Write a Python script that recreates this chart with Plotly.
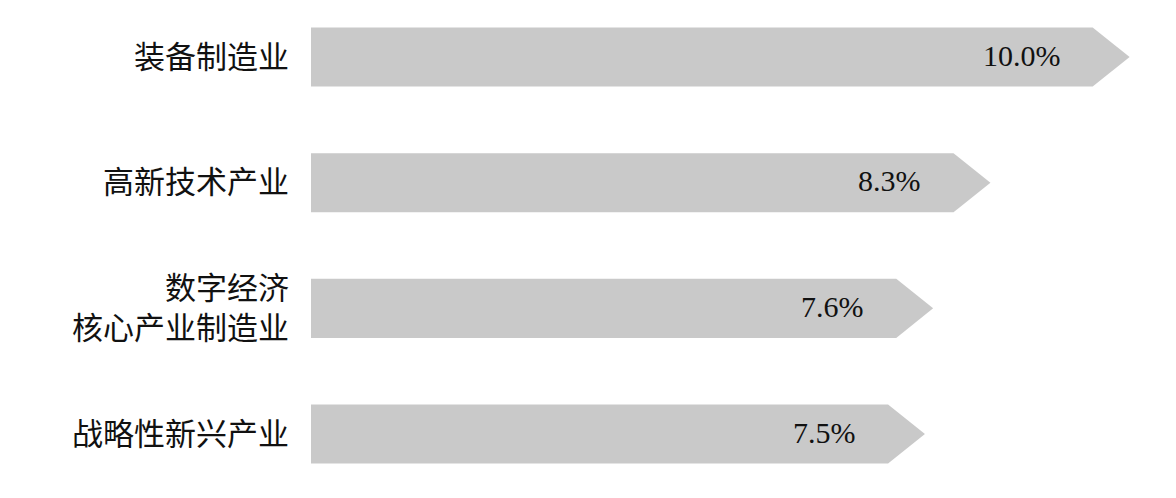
import plotly.graph_objects as go

categories = ["装备制造业", "高新技术产业", "数字经济<br>核心产业制造业", "战略性新兴产业"]
values = [10.0, 8.3, 7.6, 7.5]
value_labels = ["10.0%", "8.3%", "7.6%", "7.5%"]

BAR_COLOR = "#c9c9c9"
HEAD = 0.451      # arrow head length in data units
HALF = 0.235      # half bar thickness in category units
LINE_PITCH = 40   # px between lines of a wrapped category label

fig = go.Figure()
for i, v in enumerate(values):
    xs = [0, v - HEAD, v, v - HEAD, 0, 0]
    ys = [i - HALF, i - HALF, i, i + HALF, i + HALF, i - HALF]
    fig.add_trace(go.Scatter(
        x=xs, y=ys, mode="lines", fill="toself",
        fillcolor=BAR_COLOR, line=dict(width=0, color=BAR_COLOR),
        hoverinfo="skip", showlegend=False,
    ))
    fig.add_annotation(
        x=v, y=i, xref="x", yref="y", text=value_labels[i],
        showarrow=False, xanchor="right", yanchor="middle", xshift=-67, yshift=2,
        font=dict(family="Liberation Serif, Times New Roman, serif", size=30, color="#111111"),
    )
    lines = categories[i].split("<br>")
    n = len(lines)
    for k, line in enumerate(lines):
        offset = ((n - 1) / 2 - k) * LINE_PITCH
        fig.add_annotation(
            x=0, y=i, xref="x", yref="y", text=line,
            showarrow=False, xanchor="right", yanchor="middle",
            xshift=-20, yshift=3 + offset, align="right",
            font=dict(family="Noto Sans CJK SC, sans-serif", size=31, color="#111111"),
        )

fig.update_layout(
    width=1168, height=490,
    margin=dict(l=303, r=12, t=0, b=0),
    paper_bgcolor="white", plot_bgcolor="white",
    xaxis=dict(range=[0, 10.42], visible=False, fixedrange=True),
    yaxis=dict(range=[3.509, -0.3899], visible=False, fixedrange=True),
)

fig.write_html("out.html")
